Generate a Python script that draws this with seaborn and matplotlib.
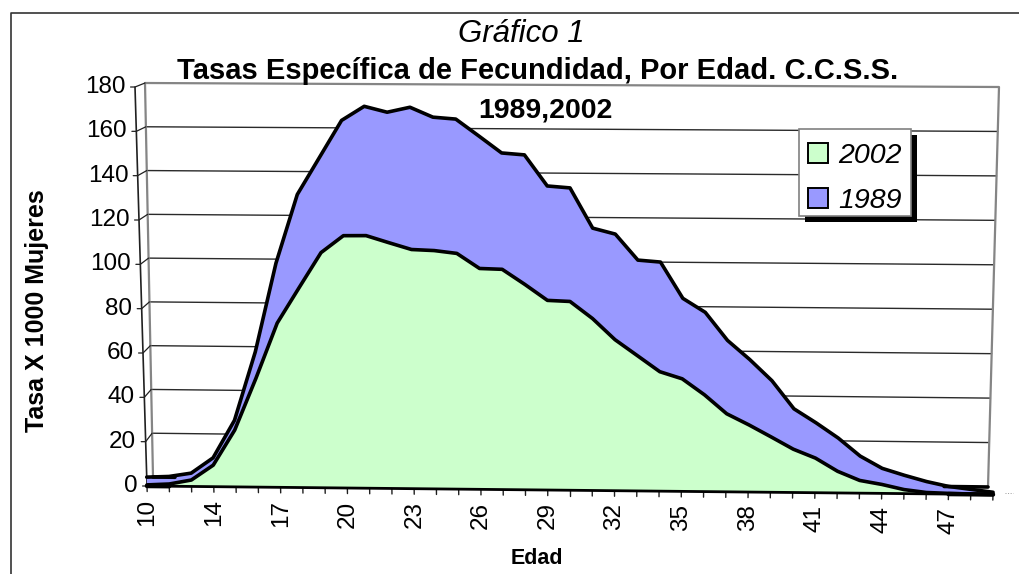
# plot.py - tasas especificas de fecundidad, area 3D estilo Excel
import numpy as np
import matplotlib
matplotlib.use('Agg')
import matplotlib.pyplot as plt
from matplotlib.lines import Line2D
from matplotlib.patches import Patch, Rectangle
import seaborn as sns

edades = [10, 12, 13, 14, 15, 16, 17, 18, 19, 20, 21, 22, 23, 24, 25, 26, 27, 28, 29, 30,
          31, 32, 33, 34, 35, 36, 37, 38, 39, 40, 41, 42, 43, 44, 45, 46, 47, 48, 49]
tasa_1989 = [4, 4.4, 6, 13, 30, 61, 101, 132, 148.7, 165.5, 171.9, 169.3, 171.6, 167.2, 166.4,
             158.9, 151.3, 150.5, 136.6, 135.8, 117.8, 115.2, 103.6, 102.8, 86.6, 80.4, 67.9,
             59.4, 50, 37.5, 31.3, 24.6, 16.6, 11.2, 8.2, 5.5, 3.4, 2.2, 1]
tasa_2002 = [0.5, 1, 2.9, 9.7, 25.6, 49, 74, 90, 105.9, 113.6, 113.7, 110.6, 107.6, 107.2, 106,
             99.3, 99, 92.3, 85.2, 84.8, 77.2, 67.8, 60.7, 53.6, 50.5, 43.4, 35, 30.1, 24.8,
             19.4, 15.5, 9.7, 5.7, 4, 1.8, 0.6, 0.3, 0.1, 0]
ticks_y = [0, 20, 40, 60, 80, 100, 120, 140, 160, 180]

C_2002 = '#ccffcc'
C_1989 = '#9999ff'
W, H = 1020, 574
n = len(edades) - 1
idx = np.arange(len(edades))

sns.set_theme(style='white')
plt.rcParams['font.family'] = ['Liberation Sans', 'DejaVu Sans']
plt.rcParams['text.color'] = 'black'

fig = plt.figure(figsize=(W / 100, H / 100), dpi=100, facecolor='white')
# los ejes cubren el plano frontal sin inclinar
ax = fig.add_axes([147 / W, (H - 486) / H, 846 / W, 399 / H])
ax.set_xlim(0, n)
ax.set_ylim(0, 180)
ax.axis('off')

# esquinas en pixeles: abajo-izq, abajo-der, arriba-izq, arriba-der
FRENTE = np.array([[147, 486], [993, 494.5], [135, 87], [1005, 92]], dtype=float)
FONDO = np.array([[153, 477], [988, 487], [145, 83], [999, 87]], dtype=float)


def proyecta(i, v, plano=FRENTE):
    # interpolacion bilineal en el plano, devuelve coordenadas de los ejes
    i = np.asarray(i, dtype=float)
    v = np.asarray(v, dtype=float)
    s, t = i / n, v / 180
    abajo = plano[0] + np.multiply.outer(s, plano[1] - plano[0])
    arriba = plano[2] + np.multiply.outer(s, plano[3] - plano[2])
    p = abajo + np.multiply.outer(t, [1, 1]) * (arriba - abajo)
    return (p[..., 0] - 147) / (846 / n), (486 - p[..., 1]) / (399 / 180)


def linea(x, y, color='black', lw=1.0, z=2):
    sns.lineplot(x=x, y=y, ax=ax, sort=False, estimator=None, color=color, lw=lw,
                 zorder=z, clip_on=False, legend=False)


# pared del fondo y rejilla
for t in ticks_y[1:-1]:
    xg, yg = proyecta([0, n], [t, t], FONDO)
    linea(xg, yg, '#2a2a2a', 1.0)
xw, yw = proyecta([0, 0, n, n], [0, 180, 180, 0], FONDO)
linea(xw, yw, '#858585', 1.6)

# lineas diagonales y marcas del eje y
for t in ticks_y:
    xa, ya = proyecta(0, t)
    xb, yb = proyecta(0, t, FONDO)
    linea(np.array([xa - 0.2, xa, xb]), np.array([ya, ya, yb]), '#202020', 0.9)
xa, ya = proyecta([0, 0], [0, 180])
linea(xa, ya, '#202020', 1.2, 3)

# areas
base_x, base_y = proyecta(idx, np.zeros(len(idx)))
x89, y89 = proyecta(idx, tasa_1989)
x02, y02 = proyecta(idx, tasa_2002)
ax.fill(np.r_[x89, base_x[::-1]], np.r_[y89, base_y[::-1]], color=C_1989, lw=0, zorder=4, clip_on=False)
ax.fill(np.r_[x02, base_x[::-1]], np.r_[y02, base_y[::-1]], color=C_2002, lw=0, zorder=5, clip_on=False)
linea(x89, y89, 'black', 2.6, 6)
linea(x02, y02, 'black', 2.6, 6)
linea(base_x, base_y, 'black', 2.0, 6)

# suelo del fondo visible en los extremos, donde las tasas casi son cero
for tramo in (idx[:2], idx[36:]):
    xf, yf = proyecta(tramo, np.zeros(len(tramo)), FONDO)
    linea(xf, yf, 'black', 2.6, 6)
    xb, yb = proyecta(tramo, np.zeros(len(tramo)))
    linea(xb, yb, 'black', 3.2, 6)

# marcas y etiquetas del eje x
for i in idx:
    xt, yt = proyecta([i, i], [0, -2.5])
    linea(xt, yt, '#202020', 1.0, 3)
for i in idx[::3]:
    xt, yt = proyecta(i, -5.6)
    ax.text(xt, yt, str(edades[i]), rotation=90, ha='center', va='top', fontsize=17.5)

for t in ticks_y:
    xt, yt = proyecta(0, t)
    ax.text(xt - 0.42, yt, str(t), ha='right', va='center', fontsize=17.5)

# textos
fig.text(521 / W, 1 - 34 / H, 'Gráfico 1', ha='center', va='center', style='italic', fontsize=22.5)
fig.text(538 / W, 1 - 71 / H, 'Tasas Específica de Fecundidad, Por Edad. C.C.S.S.', ha='center',
         va='center', fontweight='bold', fontsize=21)
fig.text(545 / W, 1 - 111 / H, '1989,2002', ha='center', va='center', fontweight='bold', fontsize=20.5)
fig.text(37 / W, 1 - 311 / H, 'Tasa X 1000 Mujeres', rotation=90, ha='center', va='center',
         fontweight='bold', fontsize=18)
fig.text(537 / W, 1 - 558 / H, 'Edad', ha='center', va='center', fontweight='bold', fontsize=15.5)

# leyenda con sombra negra y caja propia
pix = fig.dpi_scale_trans.inverted() + fig.dpi_scale_trans  # identidad, en pixeles de pantalla
ax.add_patch(Rectangle((805, H - 222), 112, 87, transform=pix, facecolor='black', edgecolor='none',
                       zorder=7, clip_on=False))
ax.add_patch(Rectangle((799, H - 216), 112, 87, transform=pix, facecolor='white', edgecolor='#808080',
                       lw=1.2, zorder=7.5, clip_on=False))
handles = [Patch(facecolor=C_2002, edgecolor='black', lw=1.4, label='2002'),
           Patch(facecolor=C_1989, edgecolor='black', lw=1.4, label='1989')]
leg = ax.legend(handles=handles, loc='upper left', bbox_to_anchor=(808, H - 143), bbox_transform=pix,
                prop={'style': 'italic', 'size': 20.5}, frameon=False, handlelength=0.7,
                handleheight=0.7, handletextpad=0.36, labelspacing=0.66, borderpad=0, borderaxespad=0)
leg.set_zorder(8)

# marco del grafico: solo izquierda y arriba
fig.add_artist(Line2D([11 / W, 11 / W, 1], [0, 1 - 13 / H, 1 - 13 / H], color='#333333', lw=1.2))
fig.add_artist(Line2D([1005 / W, 1013 / W], [1 - 493 / H] * 2, color='#999999', lw=0.7, ls=':'))

fig.savefig('out.png', dpi=100)
